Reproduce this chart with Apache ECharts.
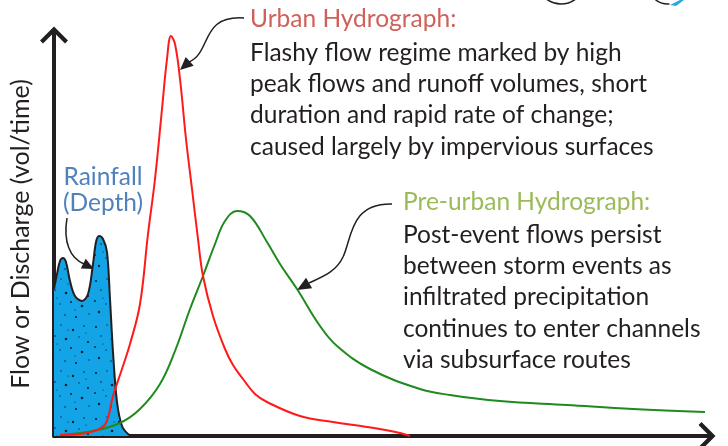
<!DOCTYPE html>
<html>
<head>
<meta charset="utf-8">
<title>Urban vs pre-urban hydrograph</title>
<script src="https://cdn.jsdelivr.net/npm/echarts@6/dist/echarts.min.js"></script>
<style>
  html, body { margin: 0; padding: 0; background: #fff; }
</style>
</head>
<body>
<div id="main" style="width:728px;height:446px;"></div>
<script>
// rainfall hyetograph (depth, arbitrary units)
var rainTime  = [0, 0.3, 0.6, 0.9, 1.2, 1.6, 2.1, 2.8, 3.4, 3.9, 4.2, 4.5, 4.9, 5.3, 5.6, 5.9, 6.3, 6.8, 7.4, 7.8];
var rainDepth = [36.75, 40.5, 43.75, 44.5, 43.5, 38.75, 35, 33.75, 35.5, 43, 48.5, 50, 49.25, 46, 34.25, 21, 8.5, 2.5, 0.5, 0];

// urban hydrograph
var urbanTime = [0.6, 2.6, 4.3, 5.2, 5.9, 6.8, 7.6, 8.6, 9.4, 10.1, 10.8, 11.3, 11.7, 12.1, 12.6, 13.2, 13.8, 14.4, 14.9, 15.9, 17.1, 17.9, 18.9, 20.1, 21.3, 24.6, 27.9, 31.3, 34.6, 35.6];
var urbanFlow = [0.25, 0.5, 1.5, 3.25, 10, 16.75, 23, 33, 50.5, 64.25, 81.75, 94.25, 100, 98, 89.25, 74.25, 61.75, 49.25, 40, 30, 21.75, 17.75, 14.25, 10.5, 8.5, 5, 3.5, 2.25, 0.75, 0];

// pre-urban hydrograph
var preTime = [0.6, 3.9, 6.6, 8.6, 10.6, 12.1, 13.6, 14.9, 16.1, 17.1, 18.3, 19.6, 21.3, 22.6, 24.3, 26.6, 28.3, 31.6, 36.6, 39.6, 44.6, 51.3, 57.9, 65.1];
var preFlow = [0.25, 1.25, 3.25, 6.75, 13, 21.25, 31.75, 40, 48, 53.75, 56.25, 55, 48.5, 43, 36.75, 27.5, 22.5, 16.75, 11.75, 10.25, 8.75, 7.75, 6.75, 6];

var urbanNote = ['Flashy flow regime marked by high', 'peak flows and runoff volumes, short', 'duration and rapid rate of change;', 'caused largely by impervious surfaces'];
var preNote = ['Post-event flows persist', 'between storm events as', 'infiltrated precipitation', 'continues to enter channels', 'via subsurface routes'];

function pairs(xs, ys) {
  return xs.map(function (x, i) { return [x, ys[i]]; });
}

// speckled blue fill for the rainfall area
function dotPattern() {
  var c = document.createElement('canvas');
  c.width = 46; c.height = 46;
  var g = c.getContext('2d');
  g.fillStyle = '#12a4e6';
  g.fillRect(0, 0, 46, 46);
  g.fillStyle = '#10202c';
  var dots = [[4,5,1.1],[15,3,0.7],[27,8,1.2],[38,4,0.8],[9,14,0.8],[20,17,1.3],[33,15,0.7],[42,20,1.1],
              [3,25,0.9],[14,28,0.7],[25,26,1.0],[36,30,1.3],[7,36,1.2],[19,39,0.8],[30,41,1.1],[43,38,0.7],
              [11,22,0.6],[29,34,0.6],[40,11,0.6],[22,8,0.6]];
  dots.forEach(function (d) {
    g.beginPath(); g.arc(d[0], d[1], d[2], 0, Math.PI * 2); g.fill();
  });
  return c;
}

var chart = echarts.init(document.getElementById('main'));
var ink = '#231f20';
var fs = 24.5, lh = 31.4;
var font = fs + 'px Lato';
// chevron arrow head pointing up (rotated by the axis)
var chevron = 'path://M0,14 L14,0 L28,14 L25,17 L14,6 L3,17 Z';

function arrowHead(tip, from, len, half) {
  var dx = tip[0] - from[0], dy = tip[1] - from[1];
  var d = Math.sqrt(dx * dx + dy * dy); dx /= d; dy /= d;
  var bx = tip[0] - dx * len, by = tip[1] - dy * len;
  return {
    type: 'polygon', silent: true,
    shape: { points: [tip, [bx - dy * half, by + dx * half], [bx + dy * half, by - dx * half]] },
    style: { fill: ink }
  };
}
function curve(p) {
  return {
    type: 'bezierCurve', silent: true,
    shape: { x1: p[0], y1: p[1], cpx1: p[2], cpy1: p[3], cpx2: p[4], cpy2: p[5], x2: p[6], y2: p[7] },
    style: { stroke: ink, lineWidth: 1.5, fill: null }
  };
}

var option = {
  animation: false,
  grid: { left: 54, right: 18, top: 32, bottom: 10, outerBoundsMode: 'none', containLabel: false },
  xAxis: {
    type: 'value', min: 0, max: 65.6,
    axisLine: { lineStyle: { color: ink, width: 4 }, symbol: ['none', chevron], symbolSize: [28, 17], symbolOffset: [0, -3] },
    axisTick: { show: false }, axisLabel: { show: false }, splitLine: { show: false }
  },
  yAxis: {
    type: 'value', min: 0, max: 101,
    name: 'Flow or Discharge (vol/time)',
    nameLocation: 'middle', nameRotate: 90, nameGap: 13,
    nameTextStyle: { color: ink, fontFamily: 'Lato', fontSize: 25, padding: [0, 0, 8, 0] },
    axisLine: { lineStyle: { color: ink, width: 4 }, symbol: ['none', chevron], symbolSize: [28, 17], symbolOffset: [0, -3] },
    axisTick: { show: false }, axisLabel: { show: false }, splitLine: { show: false }
  },
  series: [
    {
      name: 'Rainfall', type: 'line', data: pairs(rainTime, rainDepth),
      smooth: 0.35, showSymbol: false, z: 1,
      lineStyle: { color: ink, width: 2 },
      areaStyle: { color: { image: dotPattern(), repeat: 'repeat' }, opacity: 1 }
    },
    {
      name: 'Pre-urban Hydrograph', type: 'line', data: pairs(preTime, preFlow),
      smooth: 0.4, showSymbol: false, z: 3,
      lineStyle: { color: '#1f8a1f', width: 2 }
    },
    {
      name: 'Urban Hydrograph', type: 'line', data: pairs(urbanTime, urbanFlow),
      smooth: 0.4, showSymbol: false, z: 4,
      lineStyle: { color: '#ff1a1a', width: 2 }
    }
  ],
  graphic: [
    { type: 'text', x: 250, y: 18.6, style: { text: 'Urban Hydrograph:', font: font, fill: '#d0605a', verticalAlign: 'middle' } },
    { type: 'text', x: 250, y: 36.9, style: { text: urbanNote.join('\n'), font: font, lineHeight: lh, fill: ink, verticalAlign: 'top' } },
    { type: 'text', x: 403, y: 201.6, style: { text: 'Pre-urban Hydrograph:', font: font, fill: '#9bbb59', verticalAlign: 'middle' } },
    { type: 'text', x: 403, y: 218.9, style: { text: preNote.join('\n'), font: font, lineHeight: lh, fill: ink, verticalAlign: 'top' } },
    { type: 'text', x: 103, y: 176.6, style: { text: 'Rainfall', font: font, fill: '#4f81bd', align: 'center', verticalAlign: 'middle' } },
    { type: 'text', x: 103, y: 202.6, style: { text: '(Depth)', font: font, fill: '#4f81bd', align: 'center', verticalAlign: 'middle' } },
    // urban call-out
    curve([244, 18, 200, 15, 212, 52, 189, 62]),
    arrowHead([180, 70], [189, 62], 13, 6),
    // pre-urban call-out
    curve([392, 204, 350, 203, 352, 238, 343, 257]),
    curve([343, 257, 336, 272, 322, 277, 309, 283]),
    arrowHead([297, 290], [309, 283], 14, 6),
    // rainfall call-out
    curve([67, 218, 63, 242, 70, 258, 84, 264]),
    arrowHead([94, 269], [84, 264], 12, 5.5),
    // clipped icons at the top edge
    { type: 'arc', silent: true, shape: { cx: 561, cy: -20, r: 24, startAngle: 0.95, endAngle: 2.2 }, style: { stroke: ink, lineWidth: 1.5, fill: null } },
    { type: 'arc', silent: true, shape: { cx: 668, cy: -16, r: 20, startAngle: 1.5, endAngle: 2.45 }, style: { stroke: ink, lineWidth: 1.5, fill: null } },
    { type: 'polygon', silent: true, shape: { points: [[670, 5], [680, 0], [684, 0], [676, 6]] }, style: { fill: '#29a8e0' } }
  ]
};
chart.setOption(option);
</script>
</body>
</html>
